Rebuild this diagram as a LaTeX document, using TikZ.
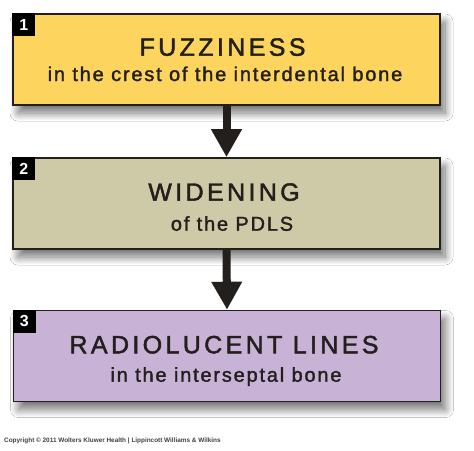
\documentclass[tikz,border=0pt]{standalone}
\usepackage{fontspec}
\setmainfont{Liberation Sans}
\newfontfamily\titlefont[LetterSpace=13.5,FakeBold=1.8]{Liberation Sans}
\newfontfamily\subfont[LetterSpace=9,FakeBold=1.6]{Liberation Sans}
\usetikzlibrary{arrows.meta,shadows.blur}

\definecolor{fuzzyellow}{HTML}{FCD45E}
\definecolor{widentan}{HTML}{CEC9A6}
\definecolor{lucentlilac}{HTML}{C8B2D5}
\definecolor{rimgray}{HTML}{231F1C}

\tikzset{
  stepbox/.style={draw=rimgray, line width=1.6pt, minimum width=427pt, minimum height=91pt, inner sep=0pt,
    blur shadow={shadow xshift=5pt, shadow yshift=-8pt, shadow blur radius=8pt, shadow blur steps=16, shadow opacity=55}},
  badge/.style={fill=black, minimum size=23pt, inner sep=0pt, text=white, font=\bfseries\fontsize{16}{16}\selectfont},
  headline/.style={anchor=base, text=rimgray, font=\titlefont\fontsize{25}{25}\selectfont},
  subline/.style={anchor=base, text=rimgray, font=\subfont\fontsize{20}{20}\selectfont},
  flow/.style={draw=rimgray, line width=8pt, -{Triangle[width=29pt,length=28pt]}}
}

\begin{document}
\begin{tikzpicture}[x=1pt, y=-1pt]
    % Page frame
    \fill[white] (0,0) rectangle (474,450);
    \useasboundingbox (0,0) rectangle (474,450);

    % Draw the three boxes
    \node[stepbox, fill=fuzzyellow] (box1) at (226.5,59.5) {};
    \node[stepbox, fill=widentan] (box2) at (226.5,203.5) {};
    \node[stepbox, fill=lucentlilac] (box3) at (227,356) {};

    % Arrows between the boxes
    \draw[flow] (box1.south) -- (box2.north);
    \draw[flow] (box2.south) -- (box3.north);

    % Number badges
    \node[badge, anchor=north west] (tag1) at (box1.north west) {1};
    \node[badge, anchor=north west] (tag2) at (box2.north west) {2};
    \node[badge, anchor=north west] (tag3) at (box3.north west) {3};

    % Box texts
    \node[headline] (title1) at (222.5,55.7) {FUZZINESS};
    \node[subline] (note1) at (225,81) {in the crest of the interdental bone};
    \node[headline] (title2) at (224,200.7) {WIDENING};
    \node[subline] (note2) at (232,230.7) {of the PDLS};
    \node[headline] (title3) at (224,353.3) {RADIOLUCENT LINES};
    \node[subline] (note3) at (226,381.7) {in the interseptal bone};

    % Credit line
    \node[anchor=base west, inner sep=0pt, text=black!75, font=\bfseries\fontsize{6.4}{7}\selectfont] (credit) at (4,442)
        {Copyright © 2011 Wolters Kluwer Health | Lippincott Williams \& Wilkins};
\end{tikzpicture}
\end{document}
